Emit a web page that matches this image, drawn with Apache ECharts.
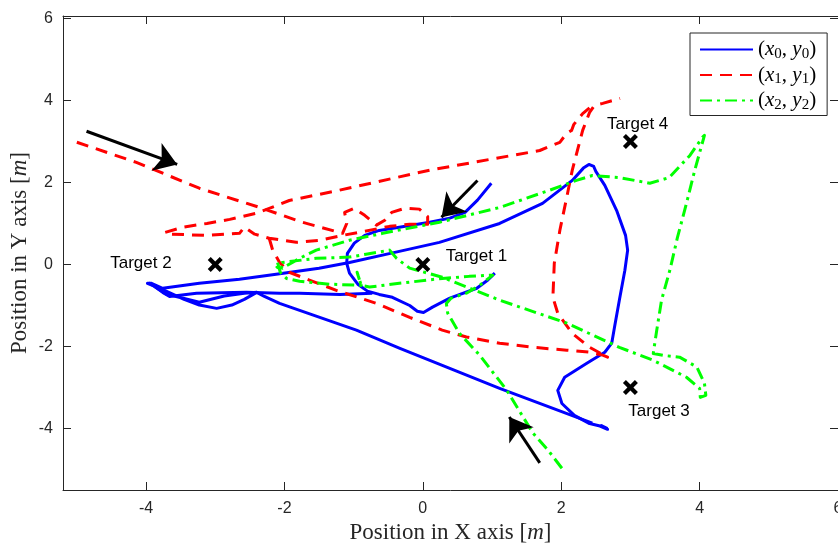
<!DOCTYPE html>
<html>
<head>
<meta charset="utf-8">
<script src="https://cdn.jsdelivr.net/npm/echarts@6/dist/echarts.min.js"></script>
<style>html,body{margin:0;padding:0;background:#fff}#c{width:838px;height:548px}</style>
</head>
<body>
<div id="c"></div>
<script>
// ---- data (plot units) ----
const xTicks = [-4, -2, 0, 2, 4, 6];
const yTicks = [-4, -2, 0, 2, 4, 6];

// agent 0 (blue) trajectory pieces
const blueA = [[0.99,1.98],[0.79,1.57],[0.61,1.27],[0.39,1.13],[0.10,1.03],[-0.34,0.91],[-0.63,0.83],[-0.84,0.71],[-0.99,0.52],[-1.09,0.27],[-1.10,0.03],[-1.06,-0.21],[-0.94,-0.48],[-0.80,-0.65],[-0.63,-0.73],[-0.44,-0.80],[-0.19,-1.00],[-0.08,-1.14],[0.01,-1.17],[0.14,-1.04],[0.39,-0.82],[0.78,-0.58],[0.94,-0.38],[1.04,-0.21]];
const blueB = [[-0.73,-0.70],[-1.20,-0.73],[-1.78,-0.70],[-2.07,-0.70],[-2.55,-0.68],[-3.27,-0.70],[-3.66,-0.78],[-3.76,-0.68],[-3.88,-0.53],[-3.98,-0.46],[-3.92,-0.46],[-3.76,-0.58],[-3.23,-0.46],[-2.65,-0.36],[-2.12,-0.24],[-1.50,-0.09],[-1.06,0.05],[-0.34,0.32],[0.24,0.54],[1.11,1.00],[1.73,1.49],[2.16,2.05],[2.32,2.35],[2.40,2.44],[2.47,2.39],[2.50,2.27],[2.63,1.93],[2.80,1.32],[2.93,0.71],[2.96,0.35],[2.92,-0.14],[2.84,-0.87],[2.77,-1.53],[2.73,-1.92],[2.63,-2.14],[2.37,-2.41],[2.05,-2.75],[1.95,-3.07],[2.01,-3.39],[2.19,-3.68],[2.41,-3.88],[2.56,-3.94],[2.67,-4.02],[2.58,-3.93],[2.67,-4.00]];
const blueC = [[2.45,-3.87],[1.11,-3.02],[-0.34,-2.04],[-0.96,-1.60],[-1.78,-1.12],[-2.07,-0.95],[-2.29,-0.78],[-2.40,-0.68],[-2.58,-0.85],[-2.76,-0.99],[-2.98,-1.07],[-3.23,-0.99],[-3.45,-0.85],[-3.71,-0.65],[-3.95,-0.46],[-3.71,-0.72],[-3.23,-0.92],[-2.87,-0.77],[-2.58,-0.70],[-2.40,-0.68]];

// agent 1 (red) trajectory pieces
const redA = [[-5.00,2.98],[-4.14,2.49],[-3.23,1.86],[-2.32,1.37],[-1.74,1.03],[-1.16,0.76],[-1.10,1.00],[-1.13,1.27],[-0.99,1.37],[-0.84,1.20],[-0.67,0.96],[-0.55,1.08],[-0.45,1.27],[-0.26,1.37],[-0.05,1.35],[0.07,1.17],[0.07,0.98],[-0.19,0.98],[-0.48,0.93],[-0.84,0.81],[-1.16,0.71],[-1.49,0.59],[-1.83,0.54],[-2.22,0.64],[-2.43,0.74],[-2.58,0.91],[-2.65,0.76],[-3.16,0.71],[-3.63,0.74],[-3.73,0.78],[-3.47,0.91],[-3.12,1.00],[-2.79,1.10],[-2.40,1.25],[-1.93,1.56],[-1.21,1.81],[0.10,2.30],[0.96,2.56],[1.69,2.78],[1.98,2.98],[2.08,3.20],[2.15,3.27],[2.18,3.41],[2.31,3.68],[2.45,3.88]];
const redB = [[-2.22,0.64],[-2.17,0.35],[-2.07,0.05],[-1.93,-0.19],[-1.64,-0.38],[-1.25,-0.63],[-0.67,-0.95],[-0.19,-1.29],[0.28,-1.60],[0.63,-1.77],[1.11,-1.92],[1.59,-2.02],[2.08,-2.09],[2.41,-2.14],[2.60,-2.21],[2.67,-2.26],[2.56,-2.16],[2.41,-2.02],[2.16,-1.68],[1.95,-1.19],[1.88,-0.80],[1.90,0.03],[1.98,0.83],[2.08,1.64],[2.16,2.30],[2.31,3.27],[2.41,3.71],[2.48,3.88],[2.60,3.93],[2.85,4.05]];

// agent 2 (green) trajectory
const greenA = [[2.01,-4.97],[1.81,-4.53],[1.59,-4.11],[1.21,-3.06],[0.82,-2.21],[0.53,-1.68],[0.36,-1.19],[0.34,-0.95],[0.41,-0.82],[0.63,-0.70],[0.82,-0.51],[1.01,-0.26],[0.67,-0.29],[0.28,-0.34],[-0.34,-0.46],[-0.77,-0.55],[-0.89,-0.51],[-0.95,-0.19],[-0.89,-0.51],[-1.35,-0.48],[-1.78,-0.41],[-1.97,-0.34],[-2.06,-0.19],[-2.10,0.05],[-2.03,-0.09],[-1.78,0.15],[-1.54,0.35],[-1.06,0.59],[-0.58,0.76],[0.24,1.03],[1.11,1.39],[1.83,1.81],[2.22,2.05],[2.45,2.17],[2.84,2.12],[3.28,1.98],[3.56,2.12],[3.86,2.66],[4.04,3.10],[4.07,3.15],[3.93,2.30],[3.81,1.49],[3.68,0.66],[3.57,-0.14],[3.45,-0.87],[3.38,-1.61],[3.33,-2.17],[3.49,-2.22],[3.71,-2.26],[3.96,-2.50],[4.07,-2.90],[4.09,-3.19],[4.01,-3.24],[4.00,-3.02],[3.81,-2.75],[3.32,-2.33],[2.84,-2.02],[2.08,-1.43],[1.11,-0.87],[0.28,-0.31],[-0.19,-0.09],[-0.38,0.15],[-0.48,0.35],[-0.82,0.25],[-1.06,0.18],[-1.54,0.15],[-2.03,0.05],[-2.12,-0.09]];

// targets
const targetNames = ['Target 1', 'Target 2', 'Target 3', 'Target 4'];
const targetX = [0, -3, 3, 3];
const targetY = [0, 0, -3, 3];
const labelX = [0.33, -3.63, 2.97, 2.66];
const labelY = [0.20, 0.03, -3.59, 3.41];

// arrows: [x tail, y tail, x head, y head]
const arrows = [[-4.86,3.25,-3.55,2.44],[0.79,2.05,0.27,1.15],[1.69,-4.84,1.25,-3.72]];

// ---- chart ----
const chart = echarts.init(document.getElementById('c'), null, {renderer: 'canvas'});
const axisCol = '#262626';
const serif = '"Liberation Serif", "DejaVu Serif", serif';
const sans = '"Liberation Sans", Arial, sans-serif';
const BLUE = '#0000ff', RED = '#ff0000', GREEN = '#00ff00';

function pathSeries(name, data, color, type, z) {
  return {
    type: 'line', name: name, data: data, xAxisIndex: 0, yAxisIndex: 0,
    symbol: 'none', showSymbol: false, smooth: false, z: z, animation: false,
    lineStyle: {color: color, width: 3, type: type, cap: 'butt', join: 'round'},
    itemStyle: {color: color}
  };
}
const redDash = [12, 8];
const greenDash = [12, 5, 3, 5];

const xPath = 'path://M0,4 L4,0 L10,6 L16,0 L20,4 L14,10 L20,16 L16,20 L10,14 L4,20 L0,16 L6,10 Z';

const rich = {
  p: {fontFamily: serif, fontSize: 21, color: '#000'},
  v: {fontFamily: serif, fontSize: 21, fontStyle: 'italic', color: '#000'},
  s: {fontFamily: serif, fontSize: 15, padding: [9, 0, 0, 0], color: '#000'}
};
const legendText = {
  x0: '{p|(}{v|x}{s|0}{p|, }{v|y}{s|0}{p|)}',
  x1: '{p|(}{v|x}{s|1}{p|, }{v|y}{s|1}{p|)}',
  x2: '{p|(}{v|x}{s|2}{p|, }{v|y}{s|2}{p|)}'
};

const baseX = {
  type: 'value', min: -5.2, max: 6,
  axisLine: {show: true, onZero: false, lineStyle: {color: axisCol, width: 1}},
  splitLine: {show: false}
};
const baseY = {
  type: 'value', min: -5.5, max: 6.06,
  axisLine: {show: true, onZero: false, lineStyle: {color: axisCol, width: 1}},
  splitLine: {show: false}
};
const titleRich = {
  a: {fontFamily: serif, fontSize: 23, color: axisCol},
  i: {fontFamily: serif, fontSize: 23, fontStyle: 'italic', color: axisCol}
};

const option = {
  backgroundColor: '#fff',
  animation: false,
  grid: {left: 63, top: 16, width: 775, height: 474, containLabel: false, outerBoundsMode: 'none'},
  xAxis: [
    Object.assign({}, baseX, {
      position: 'bottom',
      axisTick: {show: true, inside: true, length: 8, customValues: xTicks, lineStyle: {color: axisCol}},
      axisLabel: {show: true, customValues: xTicks, margin: 11, color: axisCol, fontFamily: sans, fontSize: 16,
        alignMinLabel: 'center', alignMaxLabel: 'center', hideOverlap: false},
      name: '{a|Position in X axis [}{i|m}{a|]}', nameLocation: 'middle', nameGap: 30,
      nameTextStyle: {rich: titleRich}
    }),
    Object.assign({}, baseX, {
      position: 'top',
      axisTick: {show: true, inside: true, length: 8, customValues: xTicks, lineStyle: {color: axisCol}},
      axisLabel: {show: false}
    })
  ],
  yAxis: [
    Object.assign({}, baseY, {
      position: 'left',
      axisTick: {show: true, inside: true, length: 8, customValues: yTicks, lineStyle: {color: axisCol}},
      axisLabel: {show: true, customValues: yTicks, margin: 10, color: axisCol, fontFamily: sans, fontSize: 16},
      name: '{a|Position in Y axis [}{i|m}{a|]}', nameLocation: 'middle', nameGap: 32, nameMoveOverlap: false,
      nameTextStyle: {rich: titleRich}
    }),
    Object.assign({}, baseY, {
      position: 'right',
      axisTick: {show: true, inside: true, length: 8, customValues: yTicks, lineStyle: {color: axisCol}},
      axisLabel: {show: false}
    })
  ],
  legend: {
    show: true, orient: 'vertical', left: 690, top: 33,
    data: ['x0', 'x1', 'x2'],
    itemWidth: 53, itemHeight: 20, itemGap: 3,
    padding: [6, 11, 3, 9],
    borderColor: axisCol, borderWidth: 1, backgroundColor: '#fff',
    itemStyle: {opacity: 0, color: 'rgba(0,0,0,0)', borderWidth: 0},
    formatter: function (n) { return legendText[n]; },
    textStyle: {rich: rich},
    selectedMode: false
  },
  series: [
    pathSeries('x0', blueA, BLUE, 'solid', 2),
    pathSeries('x0', blueB, BLUE, 'solid', 2),
    pathSeries('x0', blueC, BLUE, 'solid', 2),
    pathSeries('x1', redA, RED, redDash, 3),
    pathSeries('x1', redB, RED, redDash, 3),
    pathSeries('x2', greenA, GREEN, greenDash, 4),
    {
      type: 'scatter', name: 'targets', xAxisIndex: 0, yAxisIndex: 0, z: 6,
      data: targetX.map((x, i) => [x, targetY[i]]),
      symbol: xPath, symbolSize: 15, itemStyle: {color: '#000', opacity: 1}, silent: true
    },
    {
      type: 'scatter', name: 'tlabels', xAxisIndex: 0, yAxisIndex: 0, z: 6,
      data: labelX.map((x, i) => ({value: [x, labelY[i]], name: targetNames[i],
        label: {align: i === 1 ? 'right' : 'left'}})),
      symbol: 'circle', symbolSize: 1, itemStyle: {color: 'rgba(0,0,0,0)'}, silent: true,
      label: {show: true, position: 'inside', formatter: '{b}', color: '#000',
        fontFamily: sans, fontSize: 17, verticalAlign: 'middle', opacity: 1}
    },
    {
      type: 'lines', coordinateSystem: 'cartesian2d', xAxisIndex: 0, yAxisIndex: 0, z: 7,
      data: arrows.map(a => ({coords: [[a[0], a[1]], [a[2], a[3]]]})),
      symbol: ['none', 'arrow'], symbolSize: [1, 22], silent: true,
      lineStyle: {color: '#000', width: 3, opacity: 1, curveness: 0}
    }
  ]
};
chart.setOption(option);
</script>
</body>
</html>
